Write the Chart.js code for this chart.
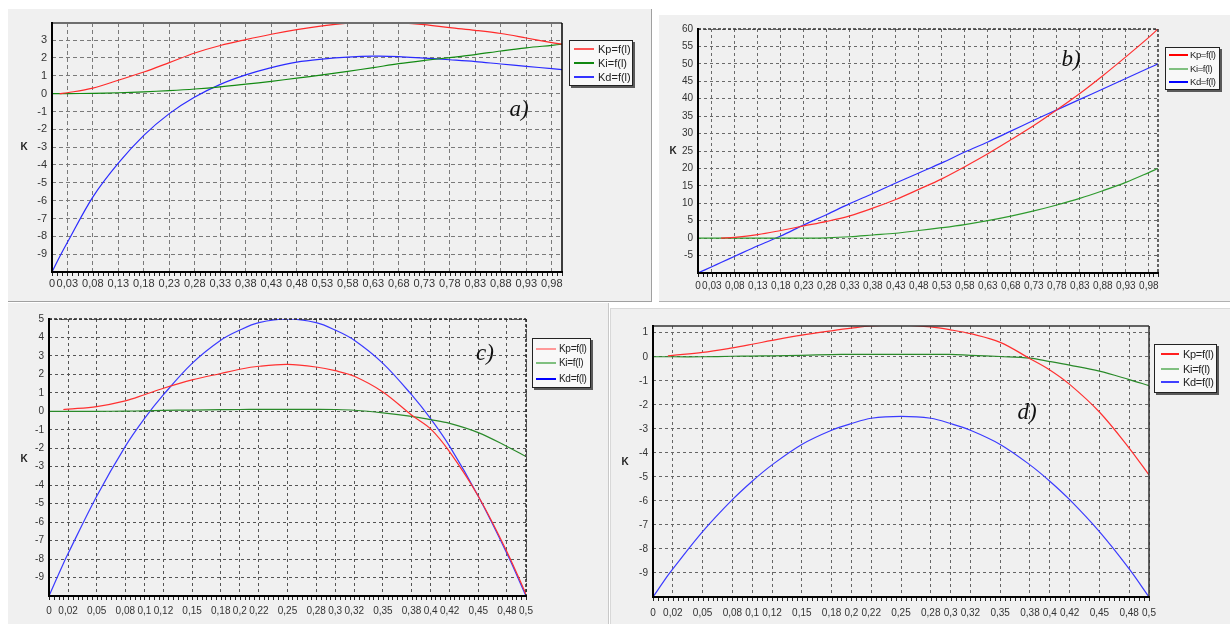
<!DOCTYPE html>
<html><head><meta charset="utf-8">
<script src="https://cdn.jsdelivr.net/npm/chart.js@4.4.1/dist/chart.umd.min.js"></script>
<style>
body{margin:0;width:1230px;height:624px;background:#fff;position:relative;overflow:hidden;font-family:'Liberation Sans',Arial,sans-serif}
.panel{position:absolute;background:#f0f0f0;box-sizing:border-box}
.panel canvas{position:absolute;left:0;top:0}
.k{position:absolute;font:bold 10px 'Liberation Sans',Arial,sans-serif;color:#222;transform:translate(-50%,-50%);line-height:1}
.tag{position:absolute;font:italic 23px 'Liberation Serif','Times New Roman',serif;color:#111;transform:translate(-50%,-50%);line-height:1}
.legend{position:absolute;background:#f8f8f8;border:1px solid #222;box-shadow:2px 2px 0 #5a5a5a;box-sizing:border-box}
.legend .ln{position:absolute;height:2px}
.legend .tx{position:absolute;color:#222;line-height:1;transform:translateY(-50%);white-space:nowrap}
</style>
</head><body>
<div id="root"></div>
<script>
// ---------- shared ----------
const seriesNames = ['Kp=f(l)', 'Ki=f(l)', 'Kd=f(l)'];

// ---------- panel a ----------
const aX  = [0, 0.015, 0.03, 0.08, 0.13, 0.18, 0.23, 0.28, 0.33, 0.38, 0.43, 0.48, 0.53, 0.58, 0.63, 0.68, 0.73, 0.78, 0.83, 0.88, 0.93, 0.98, 1.0];
const aKp = [null, 0, 0.05, 0.31, 0.75, 1.21, 1.74, 2.28, 2.7, 3.03, 3.33, 3.59, 3.8, 3.95, 4.04, 3.98, 3.87, 3.7, 3.55, 3.37, 3.12, 2.86, 2.77];
const aKi = [0, 0, 0, 0.02, 0.05, 0.1, 0.17, 0.26, 0.38, 0.53, 0.69, 0.87, 1.05, 1.25, 1.46, 1.68, 1.86, 2.02, 2.19, 2.39, 2.57, 2.71, 2.77];
const aKd = [-10, -9.15, -8.35, -5.8, -3.9, -2.34, -1.12, -0.19, 0.52, 1.05, 1.46, 1.77, 1.94, 2.05, 2.1, 2.08, 1.99, 1.9, 1.8, 1.66, 1.53, 1.4, 1.35];
const aXTicks  = [0, 0.03, 0.08, 0.13, 0.18, 0.23, 0.28, 0.33, 0.38, 0.43, 0.48, 0.53, 0.58, 0.63, 0.68, 0.73, 0.78, 0.83, 0.88, 0.93, 0.98];
const aXLabels = ['0','0,03','0,08','0,13','0,18','0,23','0,28','0,33','0,38','0,43','0,48','0,53','0,58','0,63','0,68','0,73','0,78','0,83','0,88','0,93','0,98'];
const aYTicks  = [-9, -8, -7, -6, -5, -4, -3, -2, -1, 0, 1, 2, 3];

// ---------- panel b ----------
const bX  = [0, 0.03, 0.05, 0.08, 0.13, 0.18, 0.23, 0.28, 0.33, 0.38, 0.43, 0.48, 0.53, 0.58, 0.63, 0.68, 0.73, 0.78, 0.83, 0.88, 0.93, 0.98, 1.0];
const bKp = [null, null, 0, 0.2, 1.0, 2.2, 3.5, 4.8, 6.4, 8.6, 11.1, 14.0, 17.0, 20.5, 24.2, 28.2, 32.3, 36.8, 41.5, 46.6, 52.0, 57.6, 60];
const bKi = [0, 0, 0, 0, 0, 0, 0, 0.1, 0.4, 0.9, 1.4, 2.2, 3.0, 3.9, 5.0, 6.3, 7.8, 9.5, 11.4, 13.6, 16.0, 18.8, 20];
const bKd = [-10, -8.2, -7.0, -5.2, -2.2, 0.6, 3.8, 6.8, 9.9, 12.8, 15.8, 18.7, 21.6, 24.7, 27.6, 30.7, 33.8, 36.8, 39.8, 42.8, 45.8, 48.8, 50];
const bXTicks  = [0, 0.03, 0.08, 0.13, 0.18, 0.23, 0.28, 0.33, 0.38, 0.43, 0.48, 0.53, 0.58, 0.63, 0.68, 0.73, 0.78, 0.83, 0.88, 0.93, 0.98];
const bXLabels = ['0','0,03','0,08','0,13','0,18','0,23','0,28','0,33','0,38','0,43','0,48','0,53','0,58','0,63','0,68','0,73','0,78','0,83','0,88','0,93','0,98'];
const bYTicks  = [-5, 0, 5, 10, 15, 20, 25, 30, 35, 40, 45, 50, 55, 60];

// ---------- panel c ----------
const cX  = [0, 0.015, 0.02, 0.05, 0.08, 0.1, 0.12, 0.15, 0.18, 0.2, 0.22, 0.25, 0.28, 0.3, 0.32, 0.35, 0.38, 0.4, 0.42, 0.45, 0.48, 0.5];
const cKp = [null, 0.1, 0.12, 0.26, 0.57, 0.9, 1.25, 1.7, 2.05, 2.28, 2.44, 2.54, 2.4, 2.2, 1.9, 1.05, -0.2, -0.95, -2.2, -4.6, -7.6, -9.9];
const cKi = [0, 0, 0, 0, 0.01, 0.03, 0.05, 0.07, 0.09, 0.1, 0.11, 0.11, 0.11, 0.1, 0.06, -0.08, -0.27, -0.45, -0.65, -1.15, -1.9, -2.45];
const cKd = [-10, -8.25, -7.7, -4.6, -1.9, -0.4, 0.9, 2.6, 3.85, 4.4, 4.8, 5.0, 4.8, 4.4, 3.85, 2.6, 0.9, -0.4, -1.9, -4.6, -7.7, -10];
const cXTicks  = [0, 0.02, 0.05, 0.08, 0.1, 0.12, 0.15, 0.18, 0.2, 0.22, 0.25, 0.28, 0.3, 0.32, 0.35, 0.38, 0.4, 0.42, 0.45, 0.48, 0.5];
const cXLabels = ['0','0,02','0,05','0,08','0,1','0,12','0,15','0,18','0,2','0,22','0,25','0,28','0,3','0,32','0,35','0,38','0,4','0,42','0,45','0,48','0,5'];
const cYTicks  = [-9, -8, -7, -6, -5, -4, -3, -2, -1, 0, 1, 2, 3, 4, 5];

// ---------- panel d ----------
const dX  = [0, 0.015, 0.02, 0.05, 0.08, 0.1, 0.12, 0.15, 0.18, 0.2, 0.22, 0.25, 0.28, 0.3, 0.32, 0.35, 0.38, 0.4, 0.42, 0.45, 0.48, 0.5];
const dKp = [null, 0.04, 0.06, 0.18, 0.37, 0.52, 0.68, 0.9, 1.08, 1.19, 1.28, 1.32, 1.24, 1.12, 0.96, 0.6, -0.08, -0.55, -1.15, -2.3, -3.8, -4.92];
const dKi = [0, 0, 0, 0, 0.02, 0.03, 0.04, 0.06, 0.09, 0.1, 0.1, 0.1, 0.1, 0.1, 0.06, 0.01, -0.06, -0.2, -0.35, -0.6, -0.95, -1.2];
const dKd = [-10, -9.1, -8.83, -7.28, -5.95, -5.18, -4.5, -3.65, -3.06, -2.78, -2.56, -2.48, -2.56, -2.78, -3.06, -3.65, -4.5, -5.18, -5.95, -7.28, -8.83, -10];
const dXTicks  = [0, 0.02, 0.05, 0.08, 0.1, 0.12, 0.15, 0.18, 0.2, 0.22, 0.25, 0.28, 0.3, 0.32, 0.35, 0.38, 0.4, 0.42, 0.45, 0.48, 0.5];
const dXLabels = ['0','0,02','0,05','0,08','0,1','0,12','0,15','0,18','0,2','0,22','0,25','0,28','0,3','0,32','0,35','0,38','0,4','0,42','0,45','0,48','0,5'];
const dYTicks  = [-9, -8, -7, -6, -5, -4, -3, -2, -1, 0, 1];

// ---------- drawing ----------
const framePlugin = {
  id: 'frame',
  afterDraw(chart, args, o) {
    const {ctx, chartArea: {left, top, right, bottom}} = chart;
    const xs = chart.scales.x;
    ctx.save();
    ctx.strokeStyle = '#222'; ctx.lineWidth = 1;
    const n = Math.round((xs.max - xs.min) / o.minor);
    for (let i = 0; i <= n; i++) {
      const px = Math.round(xs.getPixelForValue(xs.min + i * o.minor)) + 0.5;
      ctx.beginPath(); ctx.moveTo(px, bottom); ctx.lineTo(px, bottom + 4); ctx.stroke();
    }
    ctx.setLineDash(o.topDash || []);
    ctx.strokeStyle = o.topColor; ctx.lineWidth = o.topWidth;
    ctx.beginPath(); ctx.moveTo(left, top); ctx.lineTo(right, top); ctx.stroke();
    ctx.setLineDash(o.rightDash || []);
    ctx.strokeStyle = o.rightColor; ctx.lineWidth = o.rightWidth;
    ctx.beginPath(); ctx.moveTo(right, top); ctx.lineTo(right, bottom); ctx.stroke();
    ctx.setLineDash([]);
    ctx.strokeStyle = '#000'; ctx.lineWidth = 2;
    ctx.beginPath(); ctx.moveTo(left, top - 1); ctx.lineTo(left, bottom); ctx.lineTo(right + 1, bottom); ctx.stroke();
    ctx.restore();
  }
};

const root = document.getElementById('root');

function panel(p) {
  const div = document.createElement('div');
  div.className = 'panel';
  Object.assign(div.style, {left: p.box[0] + 'px', top: p.box[1] + 'px', width: p.box[2] + 'px', height: p.box[3] + 'px'}, p.panelStyle || {});
  const cv = document.createElement('canvas');
  cv.width = p.box[2]; cv.height = p.box[3];
  cv.style.width = p.box[2] + 'px'; cv.style.height = p.box[3] + 'px';
  div.appendChild(cv);
  root.appendChild(div);

  const mk = (arr) => p.xs.map((x, i) => ({x: x, y: arr[i]}));
  const series = [p.kp, p.ki, p.kd];
  new Chart(cv.getContext('2d'), {
    type: 'line',
    data: {
      datasets: series.map((s, i) => ({
        label: seriesNames[i], data: mk(s), borderColor: p.colors[i], borderWidth: 1.2,
        pointRadius: 0, fill: false, tension: 0.35, spanGaps: false
      }))
    },
    options: {
      responsive: false, animation: false, devicePixelRatio: 1,
      layout: {padding: {left: 0, top: p.T, right: p.R, bottom: 0}},
      plugins: {legend: {display: false}, tooltip: {enabled: false}, frame: p.frame},
      scales: {
        x: {
          type: 'linear', min: 0, max: p.xMax,
          afterBuildTicks: s => { s.ticks = p.xTicks.map(v => ({value: v})); },
          afterFit: s => { s.height = p.B; },
          ticks: {autoSkip: false, maxRotation: 0, minRotation: 0, padding: p.xPad, color: '#333',
            font: {family: "'Liberation Sans', Arial, sans-serif", size: p.fs},
            callback: (v, i) => p.xLabels[i]},
          grid: {color: p.gridColor, lineWidth: 1, drawTicks: false},
          border: {display: false, dash: p.gridDash}
        },
        y: {
          type: 'linear', min: p.yMin, max: p.yMax,
          afterBuildTicks: s => { s.ticks = p.yTicks.map(v => ({value: v})); },
          afterFit: s => { s.width = p.L; },
          ticks: {padding: 5, color: '#333',
            font: {family: "'Liberation Sans', Arial, sans-serif", size: p.fs},
            callback: v => String(v)},
          grid: {color: p.gridColor, lineWidth: 1, drawTicks: false},
          border: {display: false, dash: p.gridDash}
        }
      }
    },
    plugins: [framePlugin]
  });

  const k = document.createElement('div');
  k.className = 'k'; k.textContent = 'K';
  k.style.left = p.kPos[0] + 'px'; k.style.top = p.kPos[1] + 'px';
  root.appendChild(k);
  const t = document.createElement('div');
  t.className = 'tag'; t.textContent = p.tag;
  t.style.left = p.tagPos[0] + 'px'; t.style.top = p.tagPos[1] + 'px';
  root.appendChild(t);
  const lg = document.createElement('div');
  lg.className = 'legend';
  const g = p.leg;
  Object.assign(lg.style, {left: g.box[0] + 'px', top: g.box[1] + 'px', width: g.box[2] + 'px', height: g.box[3] + 'px'});
  seriesNames.forEach((name, i) => {
    const ln = document.createElement('div');
    ln.className = 'ln';
    Object.assign(ln.style, {left: g.line[0] + 'px', width: (g.line[1] - g.line[0]) + 'px', top: (g.rows[i] - 1) + 'px', background: g.colors[i]});
    lg.appendChild(ln);
    const tx = document.createElement('div');
    tx.className = 'tx'; tx.textContent = name;
    Object.assign(tx.style, {left: g.text + 'px', top: g.rows[i] + 'px', fontSize: g.fs + 'px', letterSpacing: (g.ls || 0) + 'px'});
    lg.appendChild(tx);
  });
  root.appendChild(lg);
}

panel({
  box: [8, 9, 644, 293], L: 44, T: 14, R: 90, B: 30,
  panelStyle: {borderRight: '1px solid #a0a0a0', borderBottom: '1px solid #a0a0a0'},
  xs: aX, kp: aKp, ki: aKi, kd: aKd, xTicks: aXTicks, xLabels: aXLabels, yTicks: aYTicks,
  xMax: 1.0, yMin: -10, yMax: 3.96, fs: 11, xPad: 5,
  colors: ['#ff2a2a', '#138a13', '#2a2aff'],
  gridColor: '#7a7a7a', gridDash: [4, 3],
  frame: {minor: 0.01, topColor: '#6e6e6e', topWidth: 2, rightColor: '#000', rightWidth: 1.5},
  kPos: [24, 147], tag: 'a)', tagPos: [519, 108],
  leg: {box: [569, 40, 64, 46], rows: [8, 22, 36], line: [4, 24], text: 28, fs: 11,
        colors: ['#ff5555', '#118811', '#3333ff']}
});

panel({
  box: [659, 15, 571, 287], L: 39, T: 14, R: 72, B: 29,
  panelStyle: {borderBottom: '1px solid #b0b0b0'},
  xs: bX, kp: bKp, ki: bKi, kd: bKd, xTicks: bXTicks, xLabels: bXLabels, yTicks: bYTicks,
  xMax: 1.0, yMin: -10, yMax: 60, fs: 10, xPad: 7,
  colors: ['#ff3030', '#2e9a2e', '#3030ff'],
  gridColor: '#6a6a6a', gridDash: [3, 3],
  frame: {minor: 0.01, topColor: '#333', topWidth: 1.5, topDash: [3, 2], rightColor: '#333', rightWidth: 1.5, rightDash: [3, 2]},
  kPos: [673, 151], tag: 'b)', tagPos: [1071, 58],
  leg: {box: [1165, 47, 55, 43], rows: [7, 21, 34], line: [3, 22], text: 24, fs: 9.5, ls: -0.4,
        colors: ['#ff0000', '#80c080', '#0000ff']}
});

panel({
  box: [8, 303, 601, 321], L: 41, T: 16, R: 83, B: 28,
  panelStyle: {borderRight: '1px solid #c8c8c8'},
  xs: cX, kp: cKp, ki: cKi, kd: cKd, xTicks: cXTicks, xLabels: cXLabels, yTicks: cYTicks,
  xMax: 0.5, yMin: -10, yMax: 5, fs: 10, xPad: 9,
  colors: ['#ff3030', '#2a8a2a', '#3a3aff'],
  gridColor: '#555', gridDash: [3, 3],
  frame: {minor: 0.005, topColor: '#222', topWidth: 1.5, topDash: [3, 2], rightColor: '#222', rightWidth: 1.5, rightDash: [3, 2]},
  kPos: [24, 459], tag: 'c)', tagPos: [485, 352],
  leg: {box: [532, 338, 59, 50], rows: [10, 24, 40], line: [3, 23], text: 26, fs: 10, ls: -0.3,
        colors: ['#ff9999', '#80c080', '#0000ff']}
});

panel({
  box: [610, 308, 620, 316], L: 42, T: 17, R: 82, B: 28,
  panelStyle: {borderLeft: '1px solid #d8d8d8', borderTop: '1px solid #d8d8d8'},
  xs: dX, kp: dKp, ki: dKi, kd: dKd, xTicks: dXTicks, xLabels: dXLabels, yTicks: dYTicks,
  xMax: 0.5, yMin: -10, yMax: 1.28, fs: 10, xPad: 10,
  colors: ['#ff3030', '#2a8a2a', '#3a3aff'],
  gridColor: '#666', gridDash: [3, 3],
  frame: {minor: 0.005, topColor: '#333', topWidth: 1.5, rightColor: '#333', rightWidth: 1.5},
  kPos: [625, 462], tag: 'd)', tagPos: [1027, 411],
  leg: {box: [1154, 344, 63, 49], rows: [9, 24, 37], line: [6, 24], text: 28, fs: 11, ls: -0.3,
        colors: ['#ff2020', '#80c080', '#4040ff']}
});
</script>
</body></html>
